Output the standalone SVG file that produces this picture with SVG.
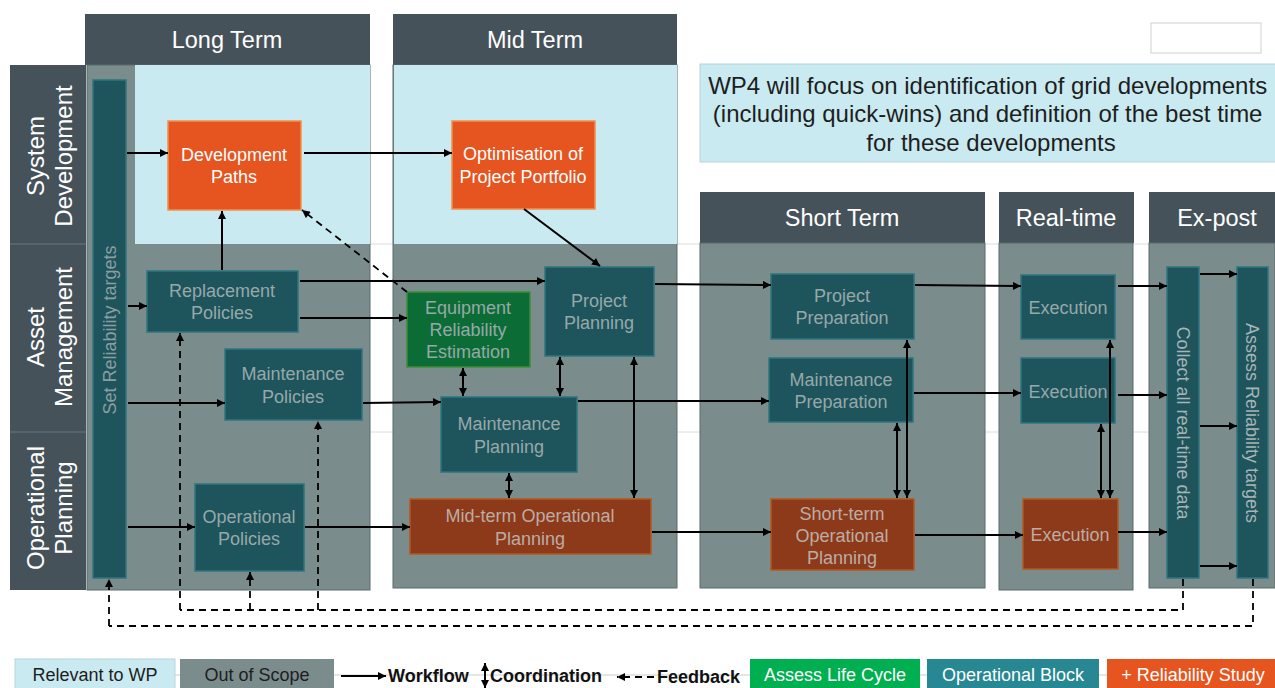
<svg xmlns="http://www.w3.org/2000/svg" width="1275" height="688" viewBox="0 0 1275 688">
  <style>
    .hdr { fill: #46525a; }
    .hdrtxt { fill: #ffffff; font-family: "Liberation Sans", Arial, sans-serif; font-size: 23.5px; text-anchor: middle; dominant-baseline: central; }
    .rowtxt { fill: #ffffff; font-family: "Liberation Sans", Arial, sans-serif; font-size: 24px; text-anchor: middle; dominant-baseline: central; }
    .body { fill: #7b8c8d; stroke: #5b6a6c; stroke-width: 1; }
    .rel { fill: #c9eaf0; }
    .teal { fill: #1e555d; stroke: #2e7580; stroke-width: 1.5; }
    .orange { fill: #e6541f; stroke: #f2904f; stroke-width: 1.5; }
    .brown { fill: #8c3a1a; stroke: #b4581f; stroke-width: 1.5; }
    .green { fill: #0b6d35; stroke: #3f8c3a; stroke-width: 1.5; }
    .t { font-family: "Liberation Sans", Arial, sans-serif; font-size: 18px; text-anchor: middle; dominant-baseline: central; }
    .tw { fill: #ffffff; }
    .tg { fill: #97a8a9; }
    .tb { fill: #bcaca4; }
    .flow { stroke: #000; stroke-width: 2; fill: none; marker-end: url(#ah); }
    .coord { stroke: #000; stroke-width: 2; fill: none; marker-start: url(#ah); marker-end: url(#ah); }
    .fb { stroke: #000; stroke-width: 1.8; fill: none; stroke-dasharray: 7 5; }
    .fba { stroke: #000; stroke-width: 1.8; fill: none; stroke-dasharray: 7 5; marker-end: url(#ah); }
    .leg { font-family: "Liberation Sans", Arial, sans-serif; font-size: 18px; text-anchor: middle; dominant-baseline: central; }
    .legb { font-family: "Liberation Sans", Arial, sans-serif; font-size: 18px; font-weight: bold; fill: #111; dominant-baseline: central; }
  </style>
  <defs>
    <marker id="ah" viewBox="0 0 10 10" refX="10" refY="5" markerWidth="9" markerHeight="8" markerUnits="userSpaceOnUse" orient="auto-start-reverse">
      <path d="M0,0 L10,5 L0,10 z" fill="#000"/>
    </marker>
  </defs>

  <!-- faint row separators -->
  <g id="row-lines" stroke="#dcdcdc" stroke-width="1">
    <line x1="10" y1="244" x2="1275" y2="244"/>
    <line x1="10" y1="432" x2="1275" y2="432"/>
  </g>

  <!-- row labels -->
  <g id="rows">
    <rect x="10" y="65" width="76" height="525" fill="#46525a"/>
    <line x1="10" y1="244" x2="86" y2="244" stroke="#6a767c" stroke-width="1"/>
    <line x1="10" y1="432" x2="86" y2="432" stroke="#6a767c" stroke-width="1"/>
    <text class="rowtxt" transform="translate(49,156) rotate(-90)"><tspan x="0" y="-14">System</tspan><tspan x="0" y="14">Development</tspan></text>
    <text class="rowtxt" transform="translate(49,337) rotate(-90)"><tspan x="0" y="-14">Asset</tspan><tspan x="0" y="14">Management</tspan></text>
    <text class="rowtxt" transform="translate(49,508) rotate(-90)"><tspan x="0" y="-14">Operational</tspan><tspan x="0" y="14">Planning</tspan></text>
  </g>

  <!-- time-horizon columns -->
  <g id="col-long">
    <rect class="hdr" x="85" y="14" width="285" height="51"/>
    <text class="hdrtxt" x="227" y="40">Long Term</text>
    <rect class="body" x="87" y="65" width="283" height="525"/>
    <rect class="rel" x="135" y="65" width="235" height="179"/>
  </g>
  <g id="col-mid">
    <rect class="hdr" x="393" y="14" width="284" height="51"/>
    <text class="hdrtxt" x="535" y="40">Mid Term</text>
    <rect class="body" x="393" y="65" width="284" height="523"/>
    <rect class="rel" x="394" y="65" width="283" height="179"/>
  </g>
  <g id="col-short">
    <rect class="hdr" x="700" y="192" width="285" height="51"/>
    <text class="hdrtxt" x="842" y="218">Short Term</text>
    <rect class="body" x="700" y="243" width="285" height="345"/>
  </g>
  <g id="col-realtime">
    <rect class="hdr" x="999" y="192" width="135" height="51"/>
    <text class="hdrtxt" x="1066" y="218">Real-time</text>
    <rect class="body" x="999" y="243" width="134" height="347"/>
  </g>
  <g id="col-expost">
    <rect class="hdr" x="1149" y="192" width="126" height="51"/>
    <text class="hdrtxt" x="1217" y="218">Ex-post</text>
    <rect class="body" x="1149" y="243" width="126" height="345"/>
  </g>

  <!-- note box -->
  <g id="note">
    <rect x="1151" y="23" width="110" height="30" fill="#ffffff" stroke="#d0d0d0" stroke-width="1"/>
    <rect x="700" y="64" width="576" height="98" fill="#c9eaf0" stroke="#b5d3d8" stroke-width="1"/>
    <text font-family="Liberation Sans, Arial, sans-serif" font-size="24" fill="#1e1e1e" text-anchor="middle" dominant-baseline="central">
      <tspan x="991" y="85">WP4 will focus on identification of grid developments</tspan>
      <tspan x="991" y="113">(including quick-wins) and definition of the best time</tspan>
      <tspan x="991" y="142">for these developments</tspan>
    </text>
  </g>

  <!-- nodes -->
  <g id="set-reliability-targets">
    <rect class="teal" x="93" y="80" width="33" height="498"/>
    <text class="t" font-size="16" fill="#8a9ea0" transform="translate(110,330) rotate(-90)" x="0" y="0">Set Reliability targets</text>
  </g>
  <g id="development-paths">
    <rect class="orange" x="168" y="121" width="133" height="89"/>
    <text class="t tw"><tspan x="234" y="155">Development</tspan><tspan x="234" y="177">Paths</tspan></text>
  </g>
  <g id="optimisation-portfolio">
    <rect class="orange" x="452" y="121" width="143" height="88"/>
    <text class="t tw"><tspan x="523" y="154">Optimisation of</tspan><tspan x="523" y="177">Project Portfolio</tspan></text>
  </g>
  <g id="replacement-policies">
    <rect class="teal" x="147" y="271" width="151" height="61"/>
    <text class="t tg"><tspan x="222" y="291">Replacement</tspan><tspan x="222" y="313">Policies</tspan></text>
  </g>
  <g id="maintenance-policies">
    <rect class="teal" x="225" y="349" width="137" height="71"/>
    <text class="t tg"><tspan x="293" y="374">Maintenance</tspan><tspan x="293" y="397">Policies</tspan></text>
  </g>
  <g id="operational-policies">
    <rect class="teal" x="195" y="484" width="109" height="87"/>
    <text class="t tg"><tspan x="249" y="517">Operational</tspan><tspan x="249" y="539">Policies</tspan></text>
  </g>
  <g id="equipment-reliability">
    <rect class="green" x="407" y="292" width="123" height="75"/>
    <text class="t tg"><tspan x="468" y="308">Equipment</tspan><tspan x="468" y="330">Reliability</tspan><tspan x="468" y="352">Estimation</tspan></text>
  </g>
  <g id="project-planning">
    <rect class="teal" x="545" y="267" width="109" height="89"/>
    <text class="t tg"><tspan x="599" y="301">Project</tspan><tspan x="599" y="323">Planning</tspan></text>
  </g>
  <g id="maintenance-planning">
    <rect class="teal" x="441" y="397" width="136" height="75"/>
    <text class="t tg"><tspan x="509" y="424">Maintenance</tspan><tspan x="509" y="447">Planning</tspan></text>
  </g>
  <g id="midterm-operational">
    <rect class="brown" x="410" y="499" width="241" height="55"/>
    <text class="t tb"><tspan x="530" y="516">Mid-term Operational</tspan><tspan x="530" y="539">Planning</tspan></text>
  </g>
  <g id="project-preparation">
    <rect class="teal" x="771" y="274" width="143" height="65"/>
    <text class="t tg"><tspan x="842" y="296">Project</tspan><tspan x="842" y="318">Preparation</tspan></text>
  </g>
  <g id="maintenance-preparation">
    <rect class="teal" x="769" y="358" width="144" height="64"/>
    <text class="t tg"><tspan x="841" y="380">Maintenance</tspan><tspan x="841" y="402">Preparation</tspan></text>
  </g>
  <g id="shortterm-operational">
    <rect class="brown" x="771" y="499" width="143" height="71"/>
    <text class="t tb"><tspan x="842" y="514">Short-term</tspan><tspan x="842" y="536">Operational</tspan><tspan x="842" y="558">Planning</tspan></text>
  </g>
  <g id="execution-project">
    <rect class="teal" x="1021" y="275" width="94" height="64"/>
    <text class="t tg" x="1068" y="308">Execution</text>
  </g>
  <g id="execution-maintenance">
    <rect class="teal" x="1021" y="358" width="94" height="65"/>
    <text class="t tg" x="1068" y="392">Execution</text>
  </g>
  <g id="execution-operational">
    <rect class="brown" x="1023" y="499" width="95" height="70"/>
    <text class="t tb" x="1070" y="535">Execution</text>
  </g>
  <g id="collect-data">
    <rect class="teal" x="1167" y="267" width="32" height="311"/>
    <text class="t" fill="#a6b4b5" transform="translate(1183,423) rotate(90)" x="0" y="0">Collect all real-time data</text>
  </g>
  <g id="assess-targets">
    <rect class="teal" x="1237" y="267" width="31" height="311"/>
    <text class="t" fill="#a6b4b5" transform="translate(1252,423) rotate(90)" x="0" y="0">Assess Reliability targets</text>
  </g>

  <!-- connectors -->
  <g id="connectors">
    <!-- workflow -->
    <line class="flow" x1="127" y1="153" x2="168" y2="153"/>
    <line class="flow" x1="304" y1="153" x2="452" y2="153"/>
    <line class="flow" x1="222" y1="270" x2="222" y2="211"/>
    <line class="flow" x1="524" y1="209" x2="600" y2="266"/>
    <line class="flow" x1="300" y1="281" x2="545" y2="281"/>
    <line class="flow" x1="300" y1="318" x2="407" y2="318"/>
    <line class="flow" x1="128" y1="306" x2="147" y2="306"/>
    <line class="flow" x1="128" y1="403" x2="225" y2="403"/>
    <line class="flow" x1="128" y1="527" x2="195" y2="527"/>
    <line class="flow" x1="363" y1="403" x2="441" y2="402"/>
    <line class="flow" x1="305" y1="527" x2="410" y2="527"/>
    <line class="flow" x1="655" y1="284" x2="771" y2="285"/>
    <line class="flow" x1="578" y1="401" x2="769" y2="401"/>
    <line class="flow" x1="652" y1="532" x2="771" y2="532"/>
    <line class="flow" x1="915" y1="285" x2="1021" y2="286"/>
    <line class="flow" x1="914" y1="393" x2="1021" y2="393"/>
    <line class="flow" x1="915" y1="535" x2="1023" y2="535"/>
    <line class="flow" x1="1118" y1="286" x2="1167" y2="286"/>
    <line class="flow" x1="1118" y1="395" x2="1167" y2="395"/>
    <line class="flow" x1="1118" y1="532" x2="1167" y2="532"/>
    <line class="flow" x1="1200" y1="274" x2="1237" y2="274"/>
    <line class="flow" x1="1200" y1="426" x2="1237" y2="426"/>
    <line class="flow" x1="1200" y1="566" x2="1237" y2="566"/>
    <!-- coordination -->
    <line class="coord" x1="463" y1="368" x2="463" y2="396"/>
    <line class="coord" x1="560" y1="357" x2="560" y2="396"/>
    <line class="coord" x1="634" y1="357" x2="634" y2="498"/>
    <line class="coord" x1="509" y1="473" x2="509" y2="498"/>
    <line class="coord" x1="897" y1="423" x2="897" y2="498"/>
    <line class="coord" x1="907" y1="340" x2="907" y2="498"/>
    <line class="coord" x1="1101" y1="424" x2="1101" y2="498"/>
    <line class="coord" x1="1110" y1="340" x2="1110" y2="498"/>
    <!-- feedback -->
    <line class="fba" x1="407" y1="292" x2="302" y2="210"/>
    <path class="fb" d="M1183,579 V610 H180"/>
    <line class="fba" x1="180" y1="610" x2="180" y2="333"/>
    <line class="fba" x1="250" y1="610" x2="250" y2="572"/>
    <line class="fba" x1="318" y1="610" x2="318" y2="421"/>
    <path class="fb" d="M1253,579 V626 H109"/>
    <line class="fba" x1="109" y1="626" x2="109" y2="579"/>
  </g>

  <!-- legend -->
  <g id="legend">
    <line x1="175" y1="675" x2="1107" y2="675" stroke="#cccccc" stroke-width="1"/>
    <rect x="15" y="659" width="160" height="32" fill="#c9eaf0" stroke="#b8d6db" stroke-width="1"/>
    <text class="leg" x="95" y="675" fill="#1e1e1e">Relevant to WP</text>
    <rect x="180" y="659" width="154" height="32" fill="#7b8c8d"/>
    <text class="leg" x="257" y="675" fill="#1e1e1e">Out of Scope</text>
    <line class="flow" x1="341" y1="676" x2="386" y2="676"/>
    <text class="legb" x="388" y="676">Workflow</text>
    <line class="coord" x1="485" y1="663" x2="485" y2="688" stroke-width="1.8"/>
    <text class="legb" x="490" y="676">Coordination</text>
    <line class="fba" x1="654" y1="677" x2="617" y2="677"/>
    <text class="legb" x="657" y="677">Feedback</text>
    <rect x="750" y="659" width="170" height="32" fill="#00b050"/>
    <text class="leg" x="835" y="675" fill="#ffffff">Assess Life Cycle</text>
    <rect x="927" y="659" width="172" height="32" fill="#278893"/>
    <text class="leg" x="1013" y="675" fill="#ffffff">Operational Block</text>
    <rect x="1107" y="659" width="168" height="32" fill="#e6541f"/>
    <text class="leg" x="1193" y="675" fill="#ffffff">+ Reliability Study</text>
  </g>
</svg>
